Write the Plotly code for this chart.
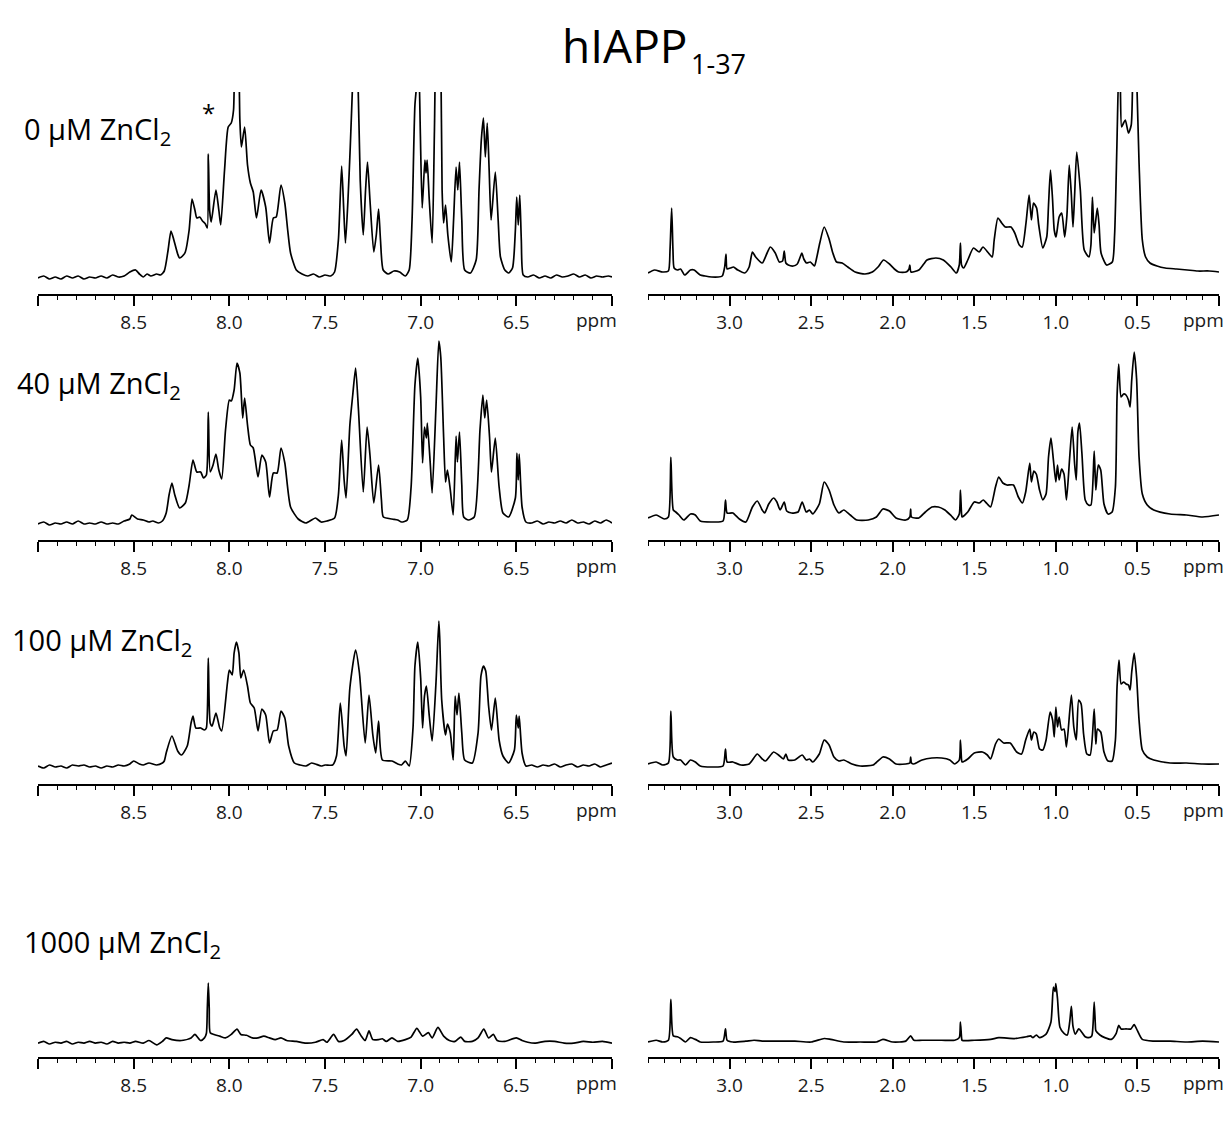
import plotly.graph_objects as go

# ---------------- data (ppm, intensity) ----------------
# intensities in arbitrary units (height above each spectrum's baseline)

aro_0uM = [
(9.00,2),(8.97,4),(8.94,1),(8.91,3),(8.88,1),(8.85,4),(8.82,2),(8.79,4),(8.76,1),(8.73,3),(8.70,2),(8.67,4),(8.64,2),(8.61,5),(8.58,3),(8.55,4),(8.52,8),(8.49,10),(8.47,6),(8.45,3),(8.43,6),(8.41,4),(8.38,6),(8.36,5),(8.34,9),(8.32,30),(8.305,49),(8.29,40),(8.27,26),(8.26,22),(8.24,25),(8.23,28),(8.21,50),(8.195,81),(8.18,70),(8.17,62),(8.155,63),(8.14,59),(8.125,56),(8.115,52),(8.11,126),(8.103,70),(8.095,58),(8.07,90),(8.055,70),(8.045,55),(8.025,110),(8.006,153),(7.99,157),(7.978,170),(7.968,235),(7.956,240),(7.945,160),(7.937,133),(7.92,153),(7.905,115),(7.89,97),(7.875,88),(7.858,62),(7.834,90),(7.81,73),(7.79,37),(7.77,62),(7.755,63),(7.73,95),(7.71,77),(7.695,50),(7.68,27),(7.65,10),(7.62,6),(7.59,4),(7.56,6),(7.53,3),(7.50,5),(7.47,4),(7.45,8),(7.43,40),(7.413,114),(7.402,70),(7.393,37),(7.38,80),(7.368,133),(7.355,200),(7.343,260),(7.330,220),(7.316,100),(7.30,45),(7.288,90),(7.278,118),(7.265,80),(7.245,28),(7.232,45),(7.22,71),(7.21,40),(7.196,10),(7.17,6),(7.14,9),(7.11,8),(7.08,4),(7.06,10),(7.045,60),(7.03,175),(7.018,200),(7.01,215),(7.002,150),(6.992,72),(6.978,120),(6.972,107),(6.966,120),(6.955,80),(6.94,37),(6.928,150),(6.918,260),(6.905,280),(6.895,230),(6.888,90),(6.88,57),(6.87,75),(6.858,45),(6.84,18),(6.828,60),(6.815,113),(6.806,90),(6.797,118),(6.785,60),(6.77,10),(6.74,7),(6.71,20),(6.695,90),(6.683,140),(6.672,162),(6.662,123),(6.652,157),(6.642,110),(6.632,60),(6.61,108),(6.595,60),(6.583,23),(6.56,10),(6.54,7),(6.52,12),(6.505,50),(6.498,83),(6.49,55),(6.482,85),(6.474,40),(6.464,5),(6.44,3),(6.41,5),(6.38,2),(6.35,4),(6.32,2),(6.29,5),(6.26,3),(6.23,4),(6.20,6),(6.17,3),(6.14,5),(6.11,2),(6.08,4),(6.05,3),(6.02,4),(6.00,3)]

ali_0uM = [
(3.50,2),(3.46,5),(3.41,3),(3.375,4),(3.365,25),(3.355,67),(3.347,25),(3.34,7),(3.32,5),(3.30,6),(3.275,0),(3.24,5),(3.217,5),(3.18,0),(3.15,-1),(3.11,-2),(3.07,-2),(3.045,-1),(3.03,8),(3.022,21),(3.015,6),(2.995,7),(2.976,8),(2.95,5),(2.907,2),(2.88,8),(2.86,23),(2.84,18),(2.80,12),(2.77,22),(2.75,28),(2.72,22),(2.695,13),(2.675,14),(2.665,24),(2.655,12),(2.64,10),(2.61,9),(2.585,11),(2.567,18),(2.557,22),(2.545,16),(2.528,12),(2.505,13),(2.48,9),(2.465,18),(2.447,32),(2.42,48),(2.39,36),(2.367,22),(2.344,13),(2.31,12),(2.275,8),(2.23,3),(2.17,1),(2.125,3),(2.09,8),(2.056,15),(2.02,11),(1.99,6),(1.964,3),(1.918,3),(1.90,6),(1.895,10),(1.888,3),(1.84,5),(1.81,11),(1.79,15),(1.735,17),(1.69,15),(1.643,8),(1.61,2),(1.592,10),(1.585,32),(1.578,10),(1.565,7),(1.54,15),(1.505,27),(1.47,23),(1.447,28),(1.413,22),(1.39,18),(1.378,35),(1.355,57),(1.332,52),(1.31,48),(1.275,48),(1.252,42),(1.224,30),(1.206,28),(1.183,52),(1.164,80),(1.15,55),(1.137,72),(1.118,67),(1.105,50),(1.08,27),(1.056,38),(1.045,70),(1.033,105),(1.02,75),(1.01,45),(0.999,38),(0.98,58),(0.964,62),(0.946,38),(0.932,60),(0.918,110),(0.905,80),(0.895,48),(0.885,80),(0.872,123),(0.85,85),(0.826,25),(0.797,18),(0.785,30),(0.776,78),(0.765,42),(0.746,67),(0.735,50),(0.723,22),(0.689,10),(0.654,13),(0.64,40),(0.626,128),(0.613,215),(0.605,190),(0.597,148),(0.585,152),(0.574,155),(0.555,142),(0.538,150),(0.528,210),(0.518,250),(0.505,200),(0.49,112),(0.47,35),(0.45,18),(0.423,12),(0.38,9),(0.33,7),(0.26,6),(0.194,5),(0.13,4),(0.06,4),(0.00,3)]

aro_40uM = [
(9.00,1),(8.97,3),(8.94,0),(8.91,2),(8.88,1),(8.85,3),(8.82,1),(8.79,4),(8.76,1),(8.73,2),(8.70,1),(8.67,3),(8.64,1),(8.61,2),(8.58,1),(8.55,4),(8.52,6),(8.51,10),(8.48,6),(8.45,5),(8.42,3),(8.40,4),(8.37,2),(8.35,4),(8.33,12),(8.315,30),(8.30,42),(8.285,30),(8.26,17),(8.23,22),(8.21,40),(8.19,65),(8.17,53),(8.15,53),(8.135,47),(8.12,50),(8.11,113),(8.10,53),(8.085,60),(8.07,71),(8.055,55),(8.04,46),(8.02,95),(8.0,125),(7.99,124),(7.975,135),(7.96,162),(7.945,152),(7.93,107),(7.92,127),(7.905,100),(7.89,80),(7.875,77),(7.85,48),(7.83,70),(7.81,63),(7.79,28),(7.77,52),(7.75,52),(7.73,77),(7.71,62),(7.68,18),(7.64,6),(7.60,2),(7.57,5),(7.55,7),(7.52,3),(7.49,4),(7.45,7),(7.43,30),(7.413,85),(7.40,45),(7.39,27),(7.37,100),(7.355,130),(7.34,157),(7.325,115),(7.30,33),(7.28,98),(7.265,70),(7.245,22),(7.22,60),(7.205,25),(7.195,8),(7.15,6),(7.12,5),(7.10,3),(7.07,5),(7.05,38),(7.03,140),(7.015,167),(7.0,128),(6.99,62),(6.98,98),(6.97,87),(6.965,102),(6.95,62),(6.94,32),(6.92,118),(6.905,184),(6.895,168),(6.88,88),(6.87,43),(6.86,55),(6.845,35),(6.83,10),(6.815,89),(6.808,63),(6.797,93),(6.785,40),(6.775,8),(6.75,5),(6.72,8),(6.69,95),(6.675,130),(6.665,107),(6.655,125),(6.64,88),(6.63,53),(6.61,87),(6.59,38),(6.57,12),(6.54,8),(6.505,27),(6.497,72),(6.49,45),(6.485,71),(6.47,18),(6.45,3),(6.42,2),(6.39,4),(6.36,1),(6.33,3),(6.30,2),(6.27,4),(6.24,2),(6.21,5),(6.18,2),(6.15,3),(6.12,1),(6.09,4),(6.06,2),(6.03,5),(6.00,2)]

ali_40uM = [
(3.50,4),(3.45,7),(3.40,3),(3.375,5),(3.36,65),(3.345,12),(3.33,10),(3.31,7),(3.28,2),(3.24,8),(3.21,7),(3.18,1),(3.10,0),(3.04,1),(3.025,22),(3.015,9),(2.98,9),(2.94,3),(2.90,0),(2.86,15),(2.83,21),(2.80,12),(2.785,9),(2.76,18),(2.73,24),(2.71,20),(2.69,12),(2.665,20),(2.65,11),(2.62,9),(2.58,10),(2.555,20),(2.53,10),(2.51,12),(2.49,8),(2.45,18),(2.42,40),(2.39,32),(2.36,17),(2.33,9),(2.30,12),(2.26,7),(2.22,2),(2.15,2),(2.10,5),(2.06,13),(2.02,11),(1.98,4),(1.92,2),(1.895,5),(1.89,13),(1.885,5),(1.84,4),(1.80,10),(1.76,15),(1.72,15),(1.68,12),(1.64,6),(1.615,2),(1.592,8),(1.585,32),(1.578,8),(1.575,5),(1.54,10),(1.50,20),(1.47,19),(1.445,22),(1.42,18),(1.40,15),(1.37,35),(1.35,45),(1.325,39),(1.30,37),(1.26,37),(1.23,25),(1.205,19),(1.185,30),(1.16,59),(1.15,40),(1.135,51),(1.12,48),(1.10,32),(1.08,22),(1.06,28),(1.045,65),(1.03,84),(1.015,62),(1.0,40),(0.99,57),(0.98,42),(0.965,53),(0.95,48),(0.935,22),(0.915,65),(0.90,95),(0.885,58),(0.875,42),(0.865,90),(0.855,99),(0.84,68),(0.82,22),(0.80,17),(0.785,17),(0.765,71),(0.755,32),(0.74,57),(0.725,52),(0.705,18),(0.68,8),(0.655,10),(0.635,35),(0.625,125),(0.615,158),(0.60,125),(0.585,128),(0.57,127),(0.555,122),(0.545,115),(0.535,142),(0.52,170),(0.505,143),(0.49,65),(0.47,28),(0.44,17),(0.40,12),(0.30,8),(0.20,7),(0.10,5),(0.00,7)]

aro_100uM = [
(9.00,2),(8.97,0),(8.94,3),(8.91,1),(8.88,2),(8.85,0),(8.82,3),(8.79,2),(8.76,3),(8.73,1),(8.70,2),(8.67,0),(8.64,2),(8.61,1),(8.58,3),(8.55,2),(8.52,4),(8.50,7),(8.47,4),(8.45,3),(8.42,5),(8.38,3),(8.35,5),(8.34,7),(8.33,15),(8.30,32),(8.27,17),(8.25,13),(8.22,22),(8.20,45),(8.19,52),(8.175,40),(8.15,40),(8.13,38),(8.12,40),(8.11,110),(8.10,45),(8.09,42),(8.07,55),(8.05,40),(8.04,37),(8.01,85),(8.0,98),(7.985,93),(7.975,115),(7.963,126),(7.95,115),(7.94,90),(7.925,98),(7.905,82),(7.89,65),(7.87,60),(7.85,37),(7.83,59),(7.81,53),(7.79,25),(7.77,37),(7.75,38),(7.73,57),(7.71,50),(7.69,22),(7.66,5),(7.63,3),(7.60,2),(7.57,5),(7.55,4),(7.52,2),(7.50,3),(7.46,3),(7.44,12),(7.42,65),(7.40,22),(7.39,12),(7.37,80),(7.34,118),(7.32,95),(7.29,25),(7.27,73),(7.25,33),(7.235,15),(7.22,47),(7.20,8),(7.15,7),(7.12,4),(7.10,3),(7.08,7),(7.06,2),(7.04,40),(7.03,102),(7.015,126),(7.0,90),(6.99,40),(6.98,72),(6.97,82),(6.955,52),(6.94,27),(6.92,85),(6.905,147),(6.90,128),(6.89,68),(6.87,33),(6.86,44),(6.845,35),(6.83,8),(6.82,72),(6.81,53),(6.80,75),(6.785,35),(6.77,8),(6.73,5),(6.70,35),(6.685,92),(6.672,102),(6.66,97),(6.645,62),(6.63,38),(6.61,70),(6.59,28),(6.57,12),(6.54,5),(6.51,18),(6.50,53),(6.49,40),(6.485,52),(6.47,15),(6.45,2),(6.42,3),(6.39,1),(6.36,3),(6.33,2),(6.30,4),(6.27,1),(6.24,3),(6.21,4),(6.18,1),(6.15,3),(6.12,2),(6.09,4),(6.06,1),(6.03,3),(6.00,5)]

ali_100uM = [
(3.50,2),(3.45,4),(3.41,1),(3.375,3),(3.36,55),(3.345,9),(3.32,6),(3.30,6),(3.27,1),(3.24,6),(3.21,4),(3.18,0),(3.10,-1),(3.04,0),(3.025,17),(3.015,4),(2.98,4),(2.93,1),(2.88,2),(2.83,12),(2.80,7),(2.78,5),(2.73,14),(2.70,11),(2.67,7),(2.655,12),(2.64,6),(2.60,6),(2.555,11),(2.53,6),(2.51,7),(2.49,4),(2.45,12),(2.42,26),(2.39,21),(2.36,9),(2.33,5),(2.30,6),(2.25,2),(2.20,0),(2.12,1),(2.06,9),(2.02,7),(1.98,2),(1.92,2),(1.895,3),(1.89,9),(1.885,3),(1.87,2),(1.82,6),(1.76,8),(1.70,8),(1.65,6),(1.62,2),(1.592,6),(1.585,26),(1.578,6),(1.575,4),(1.54,7),(1.50,13),(1.45,14),(1.42,11),(1.40,7),(1.37,22),(1.35,27),(1.32,23),(1.28,23),(1.24,14),(1.21,12),(1.185,26),(1.16,37),(1.15,26),(1.135,34),(1.12,32),(1.10,17),(1.08,16),(1.06,26),(1.035,54),(1.02,46),(1.01,29),(1.0,59),(0.99,39),(0.98,49),(0.965,36),(0.95,37),(0.935,19),(0.905,71),(0.89,39),(0.875,26),(0.86,66),(0.845,62),(0.83,32),(0.81,12),(0.79,11),(0.765,57),(0.755,22),(0.745,37),(0.725,34),(0.705,14),(0.68,5),(0.655,5),(0.635,26),(0.625,79),(0.613,106),(0.60,82),(0.585,84),(0.57,82),(0.555,81),(0.545,76),(0.535,94),(0.52,113),(0.505,89),(0.49,46),(0.47,16),(0.44,9),(0.40,6),(0.30,3),(0.20,3),(0.10,2),(0.00,2)]

aro_1000uM = [
(9.00,1),(8.97,3),(8.94,0),(8.91,2),(8.88,1),(8.85,3),(8.82,0),(8.79,2),(8.76,1),(8.73,3),(8.70,1),(8.67,2),(8.64,0),(8.61,3),(8.58,1),(8.55,2),(8.52,1),(8.49,3),(8.45,1),(8.42,4),(8.38,-1),(8.35,3),(8.33,7),(8.30,5),(8.25,4),(8.20,7),(8.18,11),(8.15,4),(8.13,7),(8.12,12),(8.115,41),(8.11,70),(8.105,41),(8.10,13),(8.08,11),(8.05,9),(8.02,7),(7.99,11),(7.96,17),(7.94,11),(7.91,10),(7.88,7),(7.85,7),(7.82,9),(7.79,7),(7.76,5),(7.73,7),(7.70,4),(7.65,3),(7.60,1),(7.55,2),(7.51,5),(7.49,2),(7.455,11),(7.43,3),(7.40,4),(7.36,11),(7.335,17),(7.31,9),(7.29,4),(7.27,15),(7.25,5),(7.22,5),(7.20,6),(7.18,3),(7.15,7),(7.12,3),(7.08,5),(7.05,8),(7.02,18),(6.99,9),(6.96,13),(6.94,7),(6.91,19),(6.88,9),(6.85,4),(6.82,3),(6.79,8),(6.77,3),(6.73,3),(6.70,7),(6.67,17),(6.645,7),(6.62,11),(6.60,4),(6.56,3),(6.50,7),(6.47,4),(6.44,2),(6.40,1),(6.35,3),(6.30,3),(6.25,1),(6.20,1),(6.15,3),(6.10,2),(6.05,3),(6.00,1)]

ali_1000uM = [
(3.50,0),(3.45,2),(3.41,0),(3.375,2),(3.36,49),(3.345,7),(3.32,6),(3.30,4),(3.27,0),(3.24,5),(3.21,3),(3.18,0),(3.10,0),(3.04,1),(3.025,15),(3.015,2),(2.98,0),(2.90,1),(2.85,2),(2.80,1),(2.70,1),(2.60,1),(2.50,0),(2.42,4),(2.38,3),(2.30,0),(2.20,0),(2.10,0),(2.06,3),(2.00,0),(1.92,1),(1.89,7),(1.87,2),(1.82,2),(1.70,2),(1.62,2),(1.592,5),(1.585,23),(1.578,5),(1.575,2),(1.50,2),(1.40,3),(1.35,5),(1.25,4),(1.18,6),(1.155,7),(1.14,5),(1.12,8),(1.10,5),(1.06,9),(1.03,23),(1.015,63),(1.005,58),(1.0,67),(0.99,50),(0.975,17),(0.95,10),(0.93,8),(0.915,23),(0.905,41),(0.895,18),(0.88,9),(0.86,15),(0.84,11),(0.82,6),(0.80,5),(0.78,7),(0.772,20),(0.765,46),(0.758,20),(0.755,13),(0.73,8),(0.70,5),(0.66,3),(0.63,10),(0.615,19),(0.60,15),(0.57,15),(0.54,15),(0.52,20),(0.50,13),(0.47,3),(0.40,1),(0.30,1),(0.20,0),(0.10,1),(0.00,0)]

conc_labels = ["0", "40", "100", "1000"]
aromatic_spectra = [aro_0uM, aro_40uM, aro_100uM, aro_1000uM]
aliphatic_spectra = [ali_0uM, ali_40uM, ali_100uM, ali_1000uM]

aro_tick_vals = [9.0, 8.5, 8.0, 7.5, 7.0, 6.5, 6.0]
aro_tick_text = ["", "8.5", "8.0", "7.5", "7.0", "6.5", ""]
ali_tick_vals = [3.0, 2.5, 2.0, 1.5, 1.0, 0.5, 0.0]
ali_tick_text = ["3.0", "2.5", "2.0", "1.5", "1.0", "0.5", ""]
aro_range = [9.0, 6.0]
ali_range = [3.5, 0.0]

# ---------------- layout geometry (pixels) ----------------
W, H = 1228, 1124
FONT = "Open Sans"
col_x = [(38, 612), (648, 1219)]
# per row: axis line y, top of panel, baseline left/right, px per intensity unit
rows = [
    dict(axis=294, top=92, base=(280, 275), scale=1.0, label_y=130, label_x=22),
    dict(axis=540, top=320, base=(525, 522), scale=1.0, label_y=385, label_x=15),
    dict(axis=784, top=590, base=(768, 766), scale=1.0, label_y=641, label_x=10),
    dict(axis=1057, top=880, base=(1044, 1042), scale=0.87, label_y=943, label_x=22),
]

fig = go.Figure()
layout = dict(
    width=W, height=H, margin=dict(l=0, r=0, t=0, b=0),
    paper_bgcolor="white", plot_bgcolor="rgba(0,0,0,0)", showlegend=False,
)
annotations = []

idx = 0
for r, row in enumerate(rows):
    for c in range(2):
        idx += 1
        spec = aromatic_spectra[r] if c == 0 else aliphatic_spectra[r]
        xs = [p[0] for p in spec]
        ys = [p[1] for p in spec]
        xname = "x" if idx == 1 else f"x{idx}"
        yname = "y" if idx == 1 else f"y{idx}"
        fig.add_trace(go.Scatter(x=xs, y=ys, mode="lines",
                                 line=dict(color="black", width=1.7, shape="spline", smoothing=0.6),
                                 xaxis=xname, yaxis=yname, hoverinfo="skip"))
        x0, x1 = col_x[c]
        A, T, B, s = row["axis"], row["top"], row["base"][c], row["scale"]
        layout[f"xaxis{idx}"] = dict(
            domain=[x0 / W, x1 / W], range=aro_range if c == 0 else ali_range,
            anchor=yname, showline=True, linecolor="black", linewidth=1.6,
            ticks="outside", ticklen=10, tickwidth=1.6, tickcolor="black",
            tickmode="array",
            tickvals=aro_tick_vals if c == 0 else ali_tick_vals,
            ticktext=aro_tick_text if c == 0 else ali_tick_text,
            tickfont=dict(family=FONT, size=19, color="#1a1a1a"),
            showgrid=False, zeroline=False, fixedrange=True,
            minor=dict(tickmode="linear", tick0=0, dtick=0.1, ticks="outside",
                       ticklen=4, tickwidth=1.3, tickcolor="black", showgrid=False),
        )
        layout[f"yaxis{idx}"] = dict(
            domain=[1 - A / H, 1 - T / H], range=[-(A - B) / s, (B - T) / s],
            visible=False, anchor=xname, fixedrange=True,
        )
        annotations.append(dict(
            text="ppm", x=(x1 - 16) / W, y=1 - (A + 26) / H, xref="paper", yref="paper",
            showarrow=False, xanchor="center", yanchor="middle",
            font=dict(family=FONT, size=19, color="#1a1a1a")))
    annotations.append(dict(
        text=f"{conc_labels[r]} µM ZnCl<sub>2</sub>", x=row["label_x"] / W, y=1 - row["label_y"] / H,
        xref="paper", yref="paper", showarrow=False, xanchor="left", yanchor="middle",
        font=dict(family=FONT, size=29, color="black")))

annotations.append(dict(text="*", x=208 / W, y=1 - 112 / H, xref="paper", yref="paper",
                        showarrow=False, xanchor="center", yanchor="middle",
                        font=dict(family=FONT, size=24, color="black")))
# title: main part and subscript placed separately
annotations.append(dict(text="hIAPP", x=690 / W, y=1 - 45 / H, xref="paper", yref="paper",
                        showarrow=False, xanchor="right", yanchor="middle",
                        font=dict(family=FONT, size=46, color="black")))
annotations.append(dict(text="1-37", x=689 / W, y=1 - 63 / H, xref="paper", yref="paper",
                        showarrow=False, xanchor="left", yanchor="middle",
                        font=dict(family=FONT, size=27, color="black")))
layout["annotations"] = annotations
fig.update_layout(**layout)
fig.write_html("out.html")
